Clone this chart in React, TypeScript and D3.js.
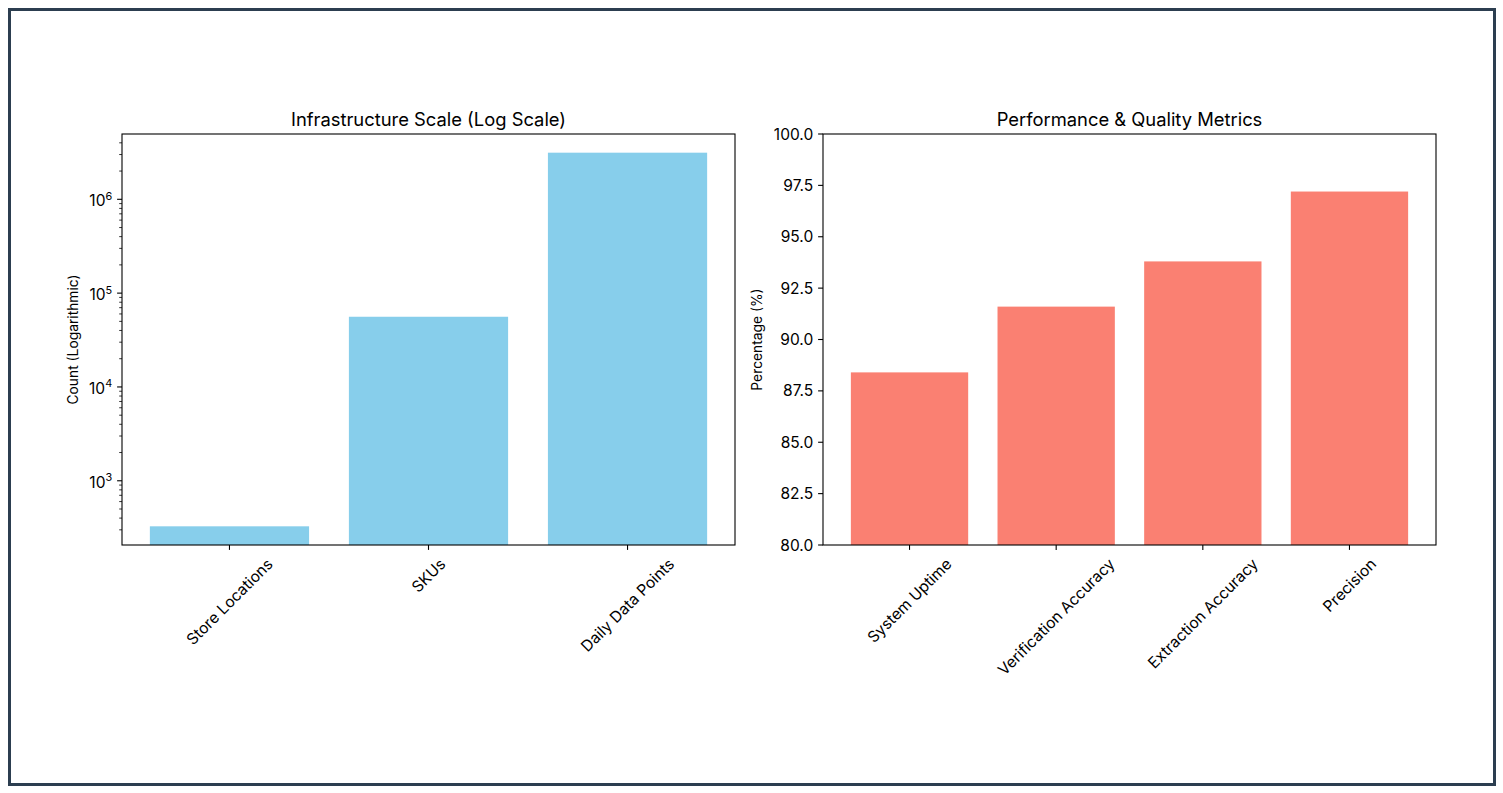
import React, { useEffect, useRef } from "react";
import * as d3 from "d3";

const infraCategories = ["Store Locations", "SKUs", "Daily Data Points"];
const infraValues = [327, 56000, 3140000];
const infraTitle = "Infrastructure Scale (Log Scale)";
const infraYLabel = "Count (Logarithmic)";

const perfCategories = ["System Uptime", "Verification Accuracy", "Extraction Accuracy", "Precision"];
const perfValues = [88.4, 91.6, 93.8, 97.2];
const perfTicks = [80, 82.5, 85, 87.5, 90, 92.5, 95, 97.5, 100];
const perfTitle = "Performance & Quality Metrics";
const perfYLabel = "Percentage (%)";

const logMajorExponents = [2, 3, 4, 5, 6, 7];

const FONT = "Inter, 'Noto Sans', sans-serif";
const TOP = 134;
const BOTTOM = 545;
const MAJOR = 4.9;
const MINOR = 2.8;
const PAD = 4.9;

type Sel = d3.Selection<SVGSVGElement, unknown, null, undefined>;

function fitSize(svg: Sel, text: string, target: number): number {
  const t = svg.append("text").attr("font-family", FONT).attr("font-size", 20).text(text);
  const w = (t.node() as SVGTextElement).getComputedTextLength();
  t.remove();
  return (20 * target) / w;
}

function drawPanel(
  svg: Sel,
  opts: {
    left: number;
    right: number;
    cats: string[];
    vals: number[];
    color: string;
    log: boolean;
    title: string;
    titleFs: number;
    ylabel: string;
    ylabelFs: number;
    ylabelX: number;
    tickFs: number;
  }
) {
  const { left, right, cats, vals, color, log, title, titleFs, ylabel, ylabelFs, ylabelX, tickFs } = opts;
  const g = svg.append("g");
  const n = cats.length;
  const xlo = -0.4, xhi = n - 1 + 0.4;
  const xm = 0.05 * (xhi - xlo);
  const x = d3.scaleLinear().domain([xlo - xm, xhi + xm]).range([left, right]);

  let y: any;
  if (log) {
    const la = Math.log10(d3.min(vals) as number);
    const lb = Math.log10(d3.max(vals) as number);
    const d = lb - la;
    y = d3.scaleLog().domain([Math.pow(10, la - 0.05 * d), Math.pow(10, lb + 0.05 * d)]).range([BOTTOM, TOP]);
  } else {
    y = d3.scaleLinear().domain([perfTicks[0], perfTicks[perfTicks.length - 1]]).range([BOTTOM, TOP]);
  }
  const [d0, d1] = y.domain();

  g.selectAll("rect.bar")
    .data(vals)
    .join("rect")
    .attr("x", (_: number, i: number) => x(i - 0.4))
    .attr("width", (_: number, i: number) => x(i + 0.4) - x(i - 0.4))
    .attr("y", (v: number) => y(v))
    .attr("height", (v: number) => BOTTOM - y(v))
    .attr("fill", color);

  g.append("rect")
    .attr("x", left)
    .attr("y", TOP)
    .attr("width", right - left)
    .attr("height", BOTTOM - TOP)
    .attr("fill", "none")
    .attr("stroke", "#000")
    .attr("stroke-width", 1.1);

  if (log) {
    const minor: number[] = [];
    const major: number[] = [];
    logMajorExponents.forEach((e) => {
      const m = Math.pow(10, e);
      if (m >= d0 && m <= d1) major.push(e);
      for (let k = 2; k <= 9; k++) {
        const v = k * m;
        if (v >= d0 && v <= d1) minor.push(v);
      }
    });
    minor.forEach((v) => {
      g.append("line")
        .attr("x1", left - MINOR).attr("x2", left)
        .attr("y1", y(v)).attr("y2", y(v))
        .attr("stroke", "#000").attr("stroke-width", 0.8);
    });
    major.forEach((e) => {
      const yy = y(Math.pow(10, e));
      g.append("line")
        .attr("x1", left - MAJOR).attr("x2", left)
        .attr("y1", yy).attr("y2", yy)
        .attr("stroke", "#000").attr("stroke-width", 1.1);
      const t = g.append("text")
        .attr("x", left - MAJOR - PAD)
        .attr("y", yy + tickFs * 0.45)
        .attr("text-anchor", "end")
        .attr("font-family", FONT)
        .attr("font-size", tickFs)
        .attr("fill", "#000");
      t.append("tspan").text("10");
      t.append("tspan")
        .attr("dy", -tickFs * 0.42)
        .attr("font-size", tickFs * 0.7)
        .text(String(e));
    });
  } else {
    perfTicks.forEach((v) => {
      const yy = y(v);
      g.append("line")
        .attr("x1", left - MAJOR).attr("x2", left)
        .attr("y1", yy).attr("y2", yy)
        .attr("stroke", "#000").attr("stroke-width", 1.1);
      g.append("text")
        .attr("x", left - MAJOR - PAD)
        .attr("y", yy + tickFs * 0.36)
        .attr("text-anchor", "end")
        .attr("font-family", FONT)
        .attr("font-size", tickFs)
        .attr("fill", "#000")
        .text(v.toFixed(1));
    });
  }

  cats.forEach((c, i) => {
    const xx = x(i);
    g.append("line")
      .attr("x1", xx).attr("x2", xx)
      .attr("y1", BOTTOM).attr("y2", BOTTOM + MAJOR)
      .attr("stroke", "#000").attr("stroke-width", 1.1);
    const t = g.append("text")
      .attr("font-family", FONT)
      .attr("font-size", tickFs)
      .attr("fill", "#000")
      .attr("text-anchor", "middle")
      .attr("dominant-baseline", "central")
      .text(c);
    const w = (t.node() as SVGTextElement).getComputedTextLength();
    const fh = tickFs * 1.17;
    const H = (w + fh) * Math.SQRT1_2;
    const cy = BOTTOM + MAJOR + PAD + H / 2;
    t.attr("transform", `translate(${xx},${cy}) rotate(-45)`);
  });

  g.append("text")
    .attr("x", (left + right) / 2)
    .attr("y", 126)
    .attr("text-anchor", "middle")
    .attr("font-family", FONT)
    .attr("font-size", titleFs)
    .attr("fill", "#000")
    .text(title);

  g.append("text")
    .attr("transform", `translate(${ylabelX},${(TOP + BOTTOM) / 2}) rotate(-90)`)
    .attr("text-anchor", "middle")
    .attr("dominant-baseline", "central")
    .attr("font-family", FONT)
    .attr("font-size", ylabelFs)
    .attr("fill", "#000")
    .text(ylabel);
}

export default function App() {
  const ref = useRef<SVGSVGElement>(null);
  useEffect(() => {
    if (!ref.current) return;
    const svg = d3.select(ref.current) as Sel;
    svg.selectAll("*").remove();
    svg.append("rect")
      .attr("x", 0).attr("y", 0).attr("width", 1503).attr("height", 793)
      .attr("fill", "#fff");
    svg.append("rect")
      .attr("x", 9.5).attr("y", 9.5)
      .attr("width", 1485).attr("height", 775)
      .attr("fill", "none")
      .attr("stroke", "#2c3e50")
      .attr("stroke-width", 3);

    const titleFs1 = fitSize(svg, infraTitle, 273);
    const titleFs2 = fitSize(svg, perfTitle, 268);
    const titleFs = (titleFs1 + titleFs2) / 2;
    const ylFs1 = fitSize(svg, infraYLabel, 132);
    const ylFs2 = fitSize(svg, perfYLabel, 101);
    const ylabelFs = (ylFs1 + ylFs2) / 2;
    const tickFs = (fitSize(svg, "100.0", 40) + fitSize(svg, "Verification Accuracy", 155)) / 2;

    drawPanel(svg, {
      left: 122, right: 735, cats: infraCategories, vals: infraValues,
      color: "#87CEEB", log: true, title: infraTitle, titleFs, ylabel: infraYLabel, ylabelFs,
      ylabelX: 73, tickFs,
    });
    drawPanel(svg, {
      left: 823, right: 1436, cats: perfCategories, vals: perfValues,
      color: "#FA8072", log: false, title: perfTitle, titleFs, ylabel: perfYLabel, ylabelFs,
      ylabelX: 757, tickFs,
    });
  }, []);
  return (
    <svg
      ref={ref}
      width={1503}
      height={793}
      style={{ position: "absolute", left: 0, top: 0, display: "block" }}
    />
  );
}
